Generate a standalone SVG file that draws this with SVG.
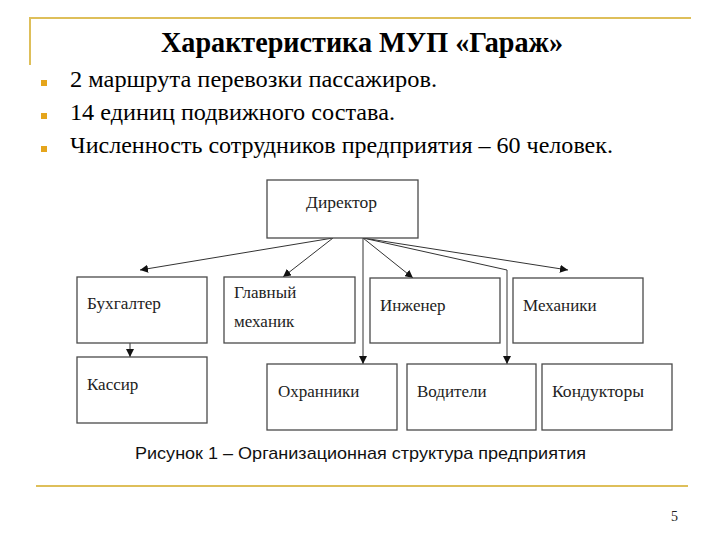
<svg xmlns="http://www.w3.org/2000/svg" width="720" height="540" viewBox="0 0 720 540">
<defs>
<style>
.gold{stroke:#DEBF5A;stroke-width:2;fill:none}
.bul{fill:#E5A51C}
.title{font-family:"Liberation Serif","DejaVu Serif",serif;font-weight:bold;font-size:29px;fill:#000}
.txt{font-family:"Liberation Serif","DejaVu Serif",serif;font-size:24px;fill:#000}
.box{fill:#fff;stroke:#4a4a4a;stroke-width:1.3}
.lbl{font-family:"Liberation Serif","DejaVu Serif",serif;font-size:17px;fill:#222}
.cap{font-family:"Liberation Sans","Arial",sans-serif;font-size:17px;fill:#111}
.pg{font-family:"Liberation Serif","DejaVu Serif",serif;font-size:14px;fill:#222}
.con{stroke:#333;stroke-width:1;fill:none}
</style>
<marker id="arr" viewBox="0 0 10 10" refX="10" refY="5" markerWidth="8" markerHeight="8" markerUnits="userSpaceOnUse" orient="auto">
<path d="M0,0 L10,5 L0,10 z" fill="#111"/>
</marker>
</defs>
<rect width="720" height="540" fill="#fff"/>
<g id="frame">
<path class="gold" d="M29,18 H691 M30,18 V65"/>
<path class="gold" d="M36,486 H688"/>
</g>
<text class="title" x="161" y="52" textLength="402" lengthAdjust="spacingAndGlyphs">Характеристика МУП «Гараж»</text>
<g id="bullets">
<rect class="bul" x="41" y="80" width="6" height="6"/>
<rect class="bul" x="41" y="113" width="6" height="6"/>
<rect class="bul" x="41" y="146" width="6" height="6"/>
<text class="txt" x="70" y="87" textLength="367" lengthAdjust="spacingAndGlyphs">2 маршрута  перевозки пассажиров.</text>
<text class="txt" x="70" y="120" textLength="325" lengthAdjust="spacingAndGlyphs">14 единиц подвижного состава.</text>
<text class="txt" x="70" y="153" textLength="543" lengthAdjust="spacingAndGlyphs">Численность сотрудников предприятия – 60 человек.</text>
</g>
<g id="connectors">
<line class="con" x1="333" y1="238" x2="140" y2="270" marker-end="url(#arr)"/>
<line class="con" x1="333" y1="238" x2="283" y2="277" marker-end="url(#arr)"/>
<line class="con" x1="363" y1="238" x2="363" y2="364" marker-end="url(#arr)"/>
<line class="con" x1="363" y1="238" x2="413" y2="278" marker-end="url(#arr)"/>
<polyline class="con" points="363,238 507,270 507,364" marker-end="url(#arr)"/>
<line class="con" x1="363" y1="238" x2="568" y2="270" marker-end="url(#arr)"/>
<line class="con" x1="130" y1="343" x2="130" y2="357" marker-end="url(#arr)"/>
</g>
<g id="director"><rect class="box" x="267" y="180" width="151" height="58"/><text class="lbl" x="306" y="208" textLength="71" lengthAdjust="spacingAndGlyphs">Директор</text></g>
<g id="buh"><rect class="box" x="77" y="277" width="130" height="66"/><text class="lbl" x="87" y="309" textLength="74" lengthAdjust="spacingAndGlyphs">Бухгалтер</text></g>
<g id="glavmeh"><rect class="box" x="224" y="277" width="131" height="66"/><text class="lbl" x="234" y="298">Главный</text><text class="lbl" x="234" y="327">механик</text></g>
<g id="inzhener"><rect class="box" x="370" y="278" width="130" height="65"/><text class="lbl" x="380" y="311">Инженер</text></g>
<g id="mehaniki"><rect class="box" x="513" y="278" width="130" height="65"/><text class="lbl" x="523" y="311">Механики</text></g>
<g id="kassir"><rect class="box" x="77" y="357" width="130" height="66"/><text class="lbl" x="87" y="390">Кассир</text></g>
<g id="ohranniki"><rect class="box" x="267" y="364" width="130" height="66"/><text class="lbl" x="278" y="397">Охранники</text></g>
<g id="voditeli"><rect class="box" x="407" y="364" width="129" height="66"/><text class="lbl" x="417" y="397">Водители</text></g>
<g id="konduktory"><rect class="box" x="542" y="364" width="130" height="66"/><text class="lbl" x="552" y="397" textLength="92" lengthAdjust="spacingAndGlyphs">Кондукторы</text></g>
<text class="cap" x="135" y="459" textLength="451" lengthAdjust="spacingAndGlyphs">Рисунок 1 – Организационная структура предприятия</text>
<text class="pg" x="671" y="521">5</text>
</svg>
